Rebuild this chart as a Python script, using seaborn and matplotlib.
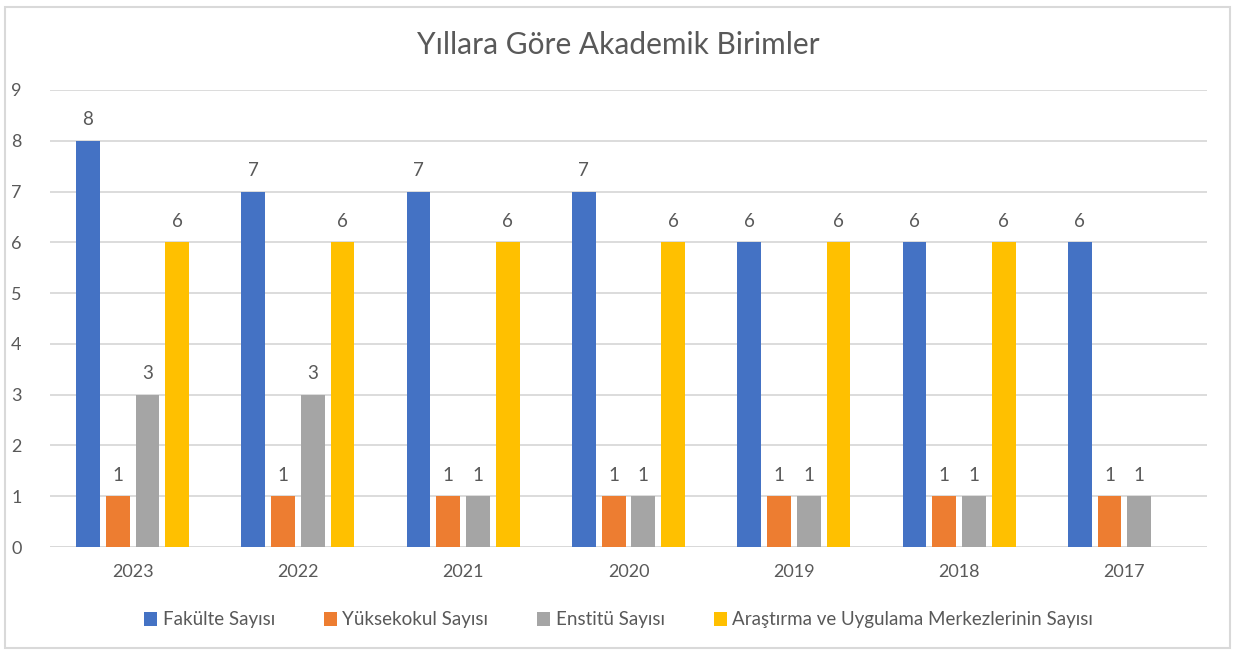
import matplotlib.pyplot as plt
import numpy as np
import pandas as pd
import seaborn as sns
from matplotlib.patches import Rectangle

years = ["2023", "2022", "2021", "2020", "2019", "2018", "2017"]
fakulte = [8, 7, 7, 7, 6, 6, 6]
yuksekokul = [1, 1, 1, 1, 1, 1, 1]
enstitu = [3, 3, 1, 1, 1, 1, 1]
arastirma = [6, 6, 6, 6, 6, 6, np.nan]

series = [
    "Fakülte Sayısı",
    "Yüksekokul Sayısı",
    "Enstitü Sayısı",
    "Araştırma ve Uygulama Merkezlerinin Sayısı",
]
colors = ["#4472C4", "#ED7D31", "#A5A5A5", "#FFC000"]

df = pd.DataFrame({
    "year": years * 4,
    "series": np.repeat(series, len(years)),
    "value": fakulte + yuksekokul + enstitu + arastirma,
})

sns.set_theme(style="white")
plt.rcParams["font.family"] = ["Lato", "DejaVu Sans"]
text_color = "#595959"

fig = plt.figure(figsize=(12.37, 6.53), dpi=100)
ax = fig.add_axes([50 / 1237, 1 - 547 / 653, 1157 / 1237, 457 / 653])

sns.barplot(data=df, x="year", y="value", hue="series", order=years,
            hue_order=series, palette=colors, width=0.72, gap=0.2,
            saturation=1, linewidth=0, ax=ax, legend=True)

for cont in ax.containers:
    labels = ["" if np.isnan(v) else f"{v:g}" for v in cont.datavalues]
    ax.bar_label(cont, labels=labels, padding=9, fontsize=13.5, color=text_color)

ax.set_ylim(0, 9)
ax.set_yticks(range(10))
ax.yaxis.grid(True, color="#D9D9D9", linewidth=1.3)
ax.set_axisbelow(True)
for s in ax.spines.values():
    s.set_visible(False)
ax.axhline(0, color="#D9D9D9", linewidth=1.3, zorder=0)
ax.set_xlabel("")
ax.set_ylabel("")
ax.tick_params(axis="both", length=0, labelsize=13, labelcolor=text_color)
ax.tick_params(axis="x", pad=12)
ax.tick_params(axis="y", pad=28)
for lbl in ax.get_yticklabels():
    lbl.set_horizontalalignment("left")

handles, lbls = ax.get_legend_handles_labels()
ax.legend(handles, lbls, loc="center", bbox_to_anchor=(0.5, 1 - 620 / 653),
          bbox_transform=fig.transFigure, ncol=4, frameon=False,
          fontsize=13.5, handlelength=0.7, handleheight=0.7,
          handletextpad=0.3, columnspacing=2.6, labelcolor=text_color)

fig.text(0.5, 1 - 45 / 653, "Yıllara Göre Akademik Birimler", ha="center",
         va="center", fontsize=21.5, color=text_color)

fig.patches.append(Rectangle((5 / 1237, 5 / 653), 1225 / 1237, 641 / 653,
                             transform=fig.transFigure, fill=False,
                             edgecolor="#D9D9D9", linewidth=1.5))

fig.savefig("out.png", dpi=100, facecolor="white")
